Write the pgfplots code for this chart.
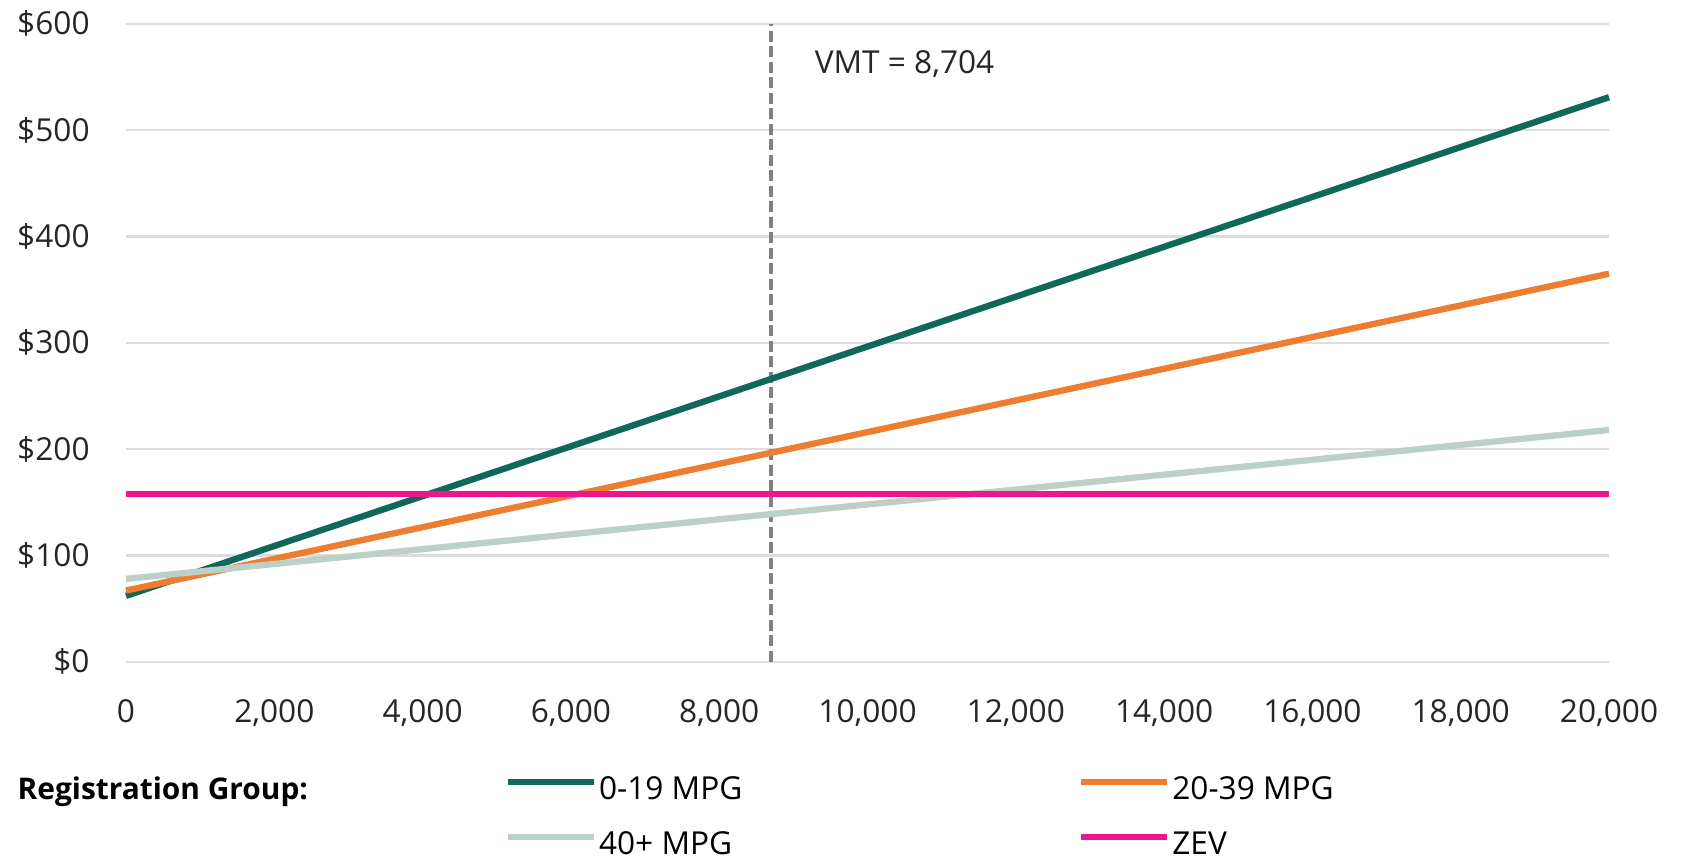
\documentclass[border=0pt]{standalone}
\usepackage{pgfplots}
\pgfplotsset{compat=1.18}
\usepackage{fontspec}
\setmainfont{Open Sans}

\definecolor{mpglow}{RGB}{16,104,88}
\definecolor{mpgmid}{RGB}{237,125,49}
\definecolor{mpghigh}{RGB}{189,208,199}
\definecolor{zev}{RGB}{236,23,140}
\definecolor{gridgray}{RGB}{220,220,220}
\definecolor{vmtgray}{RGB}{128,128,128}

\begin{document}
\begin{tikzpicture}
\path[use as bounding box] (-12.6mm,-19.7mm) rectangle (155.9mm,66.5mm);
\begin{axis}[
    at={(0,0.32mm)}, anchor=south west,
    scale only axis,
    width=148.3mm, height=63.8mm,
    xmin=0, xmax=20000,
    ymin=0, ymax=600,
    xtick={0,2000,...,20000},
    ytick={0,100,...,600},
    scaled x ticks=false,
    /pgf/number format/assume math mode=true,
    /pgf/number format/1000 sep={,},
    yticklabel={\$\pgfmathprintnumber{\tick}},
    every tick label/.append style={font=\fontsize{9pt}{11pt}\selectfont, text=black!85},
    xticklabel style={yshift=-2.5mm},
    yticklabel style={xshift=-2.4mm},
    major tick length=0pt,
    axis line style={draw=none},
    ymajorgrids,
    major grid style={color=gridgray, line width=0.7pt},
    clip=false,
    legend columns=2,
    legend style={
        at={(axis description cs:0.2549,-0.179)}, anchor=north west,
        draw=none, fill=none, inner sep=0pt,
        font=\fontsize{9pt}{11pt}\selectfont,
        row sep=2.7mm, column sep=0pt,
        nodes={inner xsep=0.2mm, inner ysep=0pt, anchor=west},
    },
    legend image code/.code={\draw[#1] (0mm,0.9mm) -- (8.6mm,0.9mm);},
]
\addplot[draw=vmtgray, line width=1.1pt, dash pattern=on 1.1mm off 0.45mm, forget plot]
    coordinates {(8704,0) (8704,600)};
\addplot[draw=mpglow, line width=1.8pt] coordinates {(0,62) (20000,531)};
\addlegendentry{\makebox[47.7mm][l]{0-19 MPG}}
\addplot[draw=mpgmid, line width=1.8pt] coordinates {(0,67) (20000,365)};
\addlegendentry{20-39 MPG}
\addplot[draw=mpghigh, line width=1.8pt] coordinates {(0,78) (20000,218)};
\addlegendentry{\makebox[47.7mm][l]{40+ MPG}}
\addplot[draw=zev, line width=1.8pt] coordinates {(0,158) (20000,158)};
\addlegendentry{ZEV}
\node[anchor=west, inner sep=0pt, font=\fontsize{9pt}{11pt}\selectfont, text=black!85]
    at (axis cs:9280,562) {VMT = 8,704};
\end{axis}
\node[anchor=west, inner sep=0pt, font=\fontsize{8.5pt}{10pt}\selectfont\bfseries]
    at (-10.9mm,-12.7mm) {Registration Group:};
\end{tikzpicture}
\end{document}
